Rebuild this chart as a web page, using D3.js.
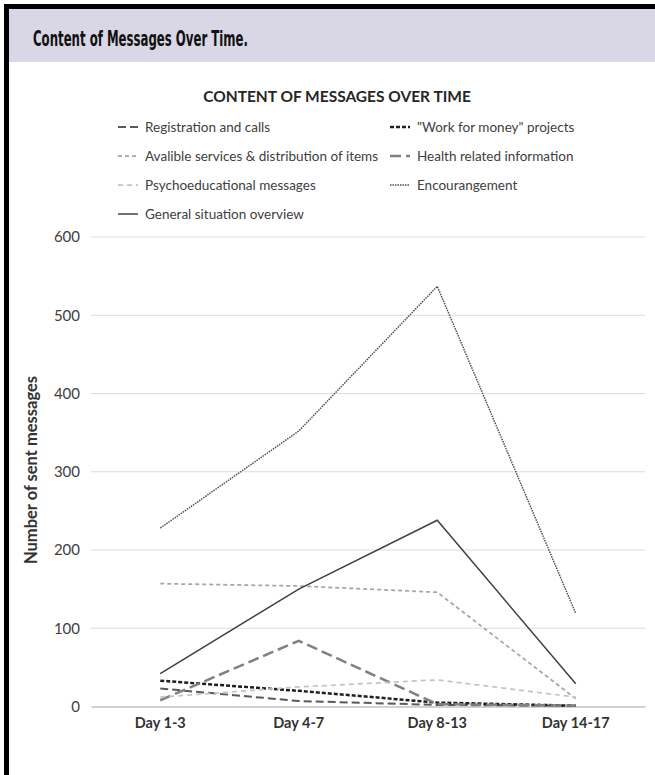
<!DOCTYPE html>
<html>
<head>
<meta charset="utf-8">
<script src="https://cdn.jsdelivr.net/npm/d3@7/dist/d3.min.js"></script>
<style>
  html, body { margin: 0; padding: 0; background: #fff; overflow: hidden; }
  svg { display: block; }
</style>
</head>
<body>
<script>
// Periods on the x axis
const categories = ["Day 1-3", "Day 4-7", "Day 8-13", "Day 14-17"];

// Number of messages sent per content type in each period
const registrationCalls   = [23, 7, 2, 1];
const workForMoney        = [33, 20, 5, 1];
const availableServices   = [157, 154, 146, 10];
const healthInformation   = [8, 84, 3, 1];
const psychoeducational   = [12, 25, 34, 12];
const encouragement       = [228, 352, 537, 119];
const generalOverview     = [42, 150, 238, 29];

// Series names (legend order)
const seriesNames = [
  "Registration and calls",
  "\"Work for money\" projects",
  "Avalible services & distribution of items",
  "Health related information",
  "Psychoeducational messages",
  "Encourangement",
  "General situation overview"
];

const yTicks = [0, 100, 200, 300, 400, 500, 600];

const seriesValues = [
  registrationCalls, workForMoney, availableServices, healthInformation,
  psychoeducational, encouragement, generalOverview
];

// Line styles, one per series
const lineStyles = [
  { color: "#595959", width: 2,    dash: "8,4" },
  { color: "#1f1f1f", width: 2.5,  dash: "4,2" },
  { color: "#a6a6a6", width: 1.75, dash: "4,3" },
  { color: "#808080", width: 2.5,  dash: "11,5" },
  { color: "#c4c4c4", width: 1.75, dash: "5,4" },
  { color: "#505050", width: 1.5,  dash: "1.5,1" },
  { color: "#404040", width: 1.5,  dash: null }
];

const W = 655, H = 775;
const svg = d3.select("body").append("svg").attr("width", W).attr("height", H);

// Card frame and heading band
svg.append("rect").attr("x", 9).attr("y", 9).attr("width", W - 9).attr("height", 53)
  .attr("fill", "#d9d7e5");
svg.append("line").attr("x1", 4).attr("x2", W).attr("y1", 6.5).attr("y2", 6.5)
  .attr("stroke", "#000").attr("stroke-width", 5);
svg.append("line").attr("x1", 6.5).attr("x2", 6.5).attr("y1", 4).attr("y2", H)
  .attr("stroke", "#000").attr("stroke-width", 5);
svg.append("text").attr("x", 33).attr("y", 46)
  .attr("font-family", "'DejaVu Sans Condensed', 'DejaVu Sans', sans-serif")
  .attr("font-stretch", "condensed")
  .attr("font-weight", "bold").attr("font-size", 21).attr("fill", "#111")
  .attr("textLength", 215).attr("lengthAdjust", "spacingAndGlyphs")
  .text("Content of Messages Over Time.");

const font = "Lato, 'Open Sans', sans-serif";

// Chart title
svg.append("text").attr("x", 337).attr("y", 102).attr("text-anchor", "middle")
  .attr("font-family", font).attr("font-weight", "bold").attr("font-size", 15.5)
  .attr("fill", "#262626").text("CONTENT OF MESSAGES OVER TIME");

// Scales
const x = d3.scaleBand().domain(categories).range([91, 645]).padding(0);
const y = d3.scaleLinear().domain([0, 600]).range([706.5, 237]);

// Gridlines
svg.append("g").selectAll("line").data(yTicks.filter(t => t > 0)).join("line")
  .attr("x1", 91).attr("x2", 645)
  .attr("y1", d => y(d)).attr("y2", d => y(d))
  .attr("stroke", "#dcdcdc").attr("stroke-width", 1);

// Y axis
const yAxis = svg.append("g").attr("transform", "translate(91,0)")
  .call(d3.axisLeft(y).tickValues(yTicks).tickSize(0).tickPadding(11));
yAxis.select(".domain").remove();
yAxis.selectAll("text").attr("font-family", font).attr("font-size", 15)
  .attr("fill", "#404040");

// X axis (baseline)
const xAxis = svg.append("g").attr("transform", `translate(0,${y(0)})`)
  .call(d3.axisBottom(x).tickSize(0).tickPadding(11));
xAxis.select(".domain").attr("stroke", "#a6a6a6").attr("stroke-width", 1.2);
xAxis.selectAll("text").attr("font-family", font).attr("font-weight", "bold")
  .attr("font-size", 14.5).attr("fill", "#333");

// Y axis title
svg.append("text")
  .attr("transform", "translate(37,470) rotate(-90)")
  .attr("text-anchor", "middle")
  .attr("font-family", font).attr("font-weight", "bold").attr("font-size", 16.5)
  .attr("fill", "#333").text("Number of sent messages");

// Lines
const line = d3.line()
  .x((d, i) => x(categories[i]) + x.bandwidth() / 2)
  .y(d => y(d));

svg.append("g").selectAll("path").data(seriesValues).join("path")
  .attr("d", d => line(d))
  .attr("fill", "none")
  .attr("stroke", (d, i) => lineStyles[i].color)
  .attr("stroke-width", (d, i) => lineStyles[i].width)
  .attr("stroke-dasharray", (d, i) => lineStyles[i].dash);

// Legend: two columns, filled row by row
const legendCols = [118, 390];
const legendRows = [127, 156, 185, 214];
const legend = svg.append("g").selectAll("g").data(seriesNames).join("g")
  .attr("transform", (d, i) => `translate(${legendCols[i % 2]},${legendRows[Math.floor(i / 2)]})`);
legend.append("line").attr("x1", 0).attr("x2", 20).attr("y1", 0).attr("y2", 0)
  .attr("stroke", (d, i) => lineStyles[i].color)
  .attr("stroke-width", (d, i) => lineStyles[i].width)
  .attr("stroke-dasharray", (d, i) => lineStyles[i].dash);
legend.append("text").attr("x", 27).attr("y", 5)
  .attr("font-family", font).attr("font-size", 13.5).attr("fill", "#404040")
  .text(d => d);
</script>
</body>
</html>
